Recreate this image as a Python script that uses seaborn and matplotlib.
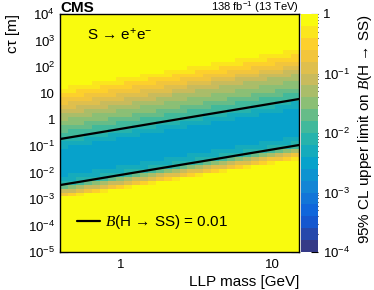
import numpy as np
import pandas as pd
import seaborn as sns
import matplotlib
matplotlib.use("Agg")
import matplotlib.pyplot as plt
from matplotlib.colors import LinearSegmentedColormap, LogNorm
from matplotlib.ticker import LogLocator, FuncFormatter, NullFormatter

# B(H->SS) = 0.01 contour lines
mass_pts = [0.4, 0.6, 1.0, 1.5, 2.5, 4.0, 6.0, 10.0, 15.0]
ctau_upper = [0.187, 0.276, 0.451, 0.667, 1.09, 1.71, 2.52, 4.12, 6.1]
ctau_lower = [0.0034, 0.0050, 0.0082, 0.0121, 0.0198, 0.031, 0.046, 0.075, 0.111]

# limit across the band: decades of c*tau above the upper contour -> limit
band_offset = [-3.0, -2.35, -2.2, -2.05, -1.9, -1.74, -1.55, -1.3, -0.9,
               -0.5, -0.2, 0.0, 0.3, 0.6, 0.9, 1.2, 1.5, 1.8, 2.05, 3.0]
band_limit = [1.0, 1.0, 0.45, 0.12, 0.035, 0.010, 0.005, 0.0033, 0.003,
              0.0033, 0.005, 0.010, 0.018, 0.033, 0.06, 0.12, 0.25, 0.5, 1.0, 1.0]

# ROOT kBird palette
bird_colors = ["#353a87", "#0f5cdd", "#1481d6", "#06a4ca", "#2eb7a4",
               "#87bf77", "#d1bb59", "#fec832", "#f9fb0e"]

# histogram binning (log10 units)
n_mass, n_ctau = 30, 60
mass_range = (np.log10(0.4), np.log10(15.0))
ctau_range = (-5.0, 4.0)

# build the limit table from the read values
me = np.linspace(*mass_range, n_mass + 1)
ce = np.linspace(*ctau_range, n_ctau + 1)
lm = (me[:-1] + me[1:]) / 2
lc = (ce[:-1] + ce[1:]) / 2
LM, LC = np.meshgrid(lm, lc, indexing="ij")
edge = np.interp(LM, np.log10(mass_pts), np.log10(ctau_upper))
lim = 10 ** np.interp(LC - edge, band_offset, np.log10(band_limit))
df = pd.DataFrame({"mass": 10 ** LM.ravel(), "ctau": 10 ** LC.ravel(),
                   "limit": lim.ravel()})

sns.set_style("ticks")
plt.rcParams["font.family"] = ["Liberation Sans", "DejaVu Sans"]
plt.rcParams["mathtext.fontset"] = "custom"
plt.rcParams["mathtext.rm"] = "Liberation Sans"
plt.rcParams["mathtext.it"] = "Liberation Sans:italic"
plt.rcParams["mathtext.bf"] = "Liberation Sans:bold"
plt.rcParams["mathtext.cal"] = "Liberation Serif:italic"
for key in ["text.color", "axes.labelcolor", "axes.edgecolor",
            "xtick.color", "ytick.color"]:
    plt.rcParams[key] = "black"

bird = LinearSegmentedColormap.from_list("bird", bird_colors, N=20)

fig = plt.figure(figsize=(3.74, 2.90), dpi=100)
ax = fig.add_axes([60 / 374, 38 / 290, 239 / 374, 238 / 290])
cax = fig.add_axes([301 / 374, 38 / 290, 17 / 374, 238 / 290])

sns.histplot(data=df, x="mass", y="ctau", weights="limit",
             bins=(n_mass, n_ctau), binrange=(mass_range, ctau_range),
             log_scale=(True, True), cmap=bird, cbar=False, ax=ax)
mesh = ax.collections[0]
mesh.set_norm(LogNorm(1e-4, 1))
cbar = fig.colorbar(mesh, cax=cax)

sns.lineplot(x=mass_pts, y=ctau_upper, color="black", lw=1.6, ax=ax,
             label=r"$\mathcal{B}$(H → SS) = 0.01")
sns.lineplot(x=mass_pts, y=ctau_lower, color="black", lw=1.6, ax=ax)

ax.set_xlim(0.4, 15)
ax.set_ylim(1e-5, 1e4)


def log_fmt(v, pos):
    e = int(round(np.log10(v)))
    if e == 0:
        return "1"
    if e == 1:
        return "10"
    return r"$10^{%d}$" % e


for axis in (ax.xaxis, ax.yaxis, cax.yaxis):
    axis.set_major_locator(LogLocator(base=10, numticks=20))
    axis.set_minor_locator(LogLocator(base=10, subs=np.arange(2, 10), numticks=200))
    axis.set_major_formatter(FuncFormatter(log_fmt))
    axis.set_minor_formatter(NullFormatter())

ax.tick_params(which="both", direction="in", top=True, right=True,
               labelsize=9.5, width=0.8)
ax.tick_params(which="major", length=6)
ax.tick_params(which="minor", length=3)
ax.tick_params(axis="x", pad=5)
for s in ax.spines.values():
    s.set_linewidth(1.0)
    s.set_color("black")

cax.tick_params(which="both", direction="in", labelsize=9.5, width=0.8)
cax.tick_params(which="major", length=5)
cax.tick_params(which="minor", length=2.5)
cbar.outline.set_visible(False)

ax.set_xlabel("LLP mass [GeV]", loc="right", fontsize=11, labelpad=3)
ax.set_ylabel("cτ [m]", loc="top", fontsize=11, labelpad=6)
cax.set_ylabel(r"95% CL upper limit on $\mathcal{B}$(H → SS)", loc="top",
               fontsize=11, labelpad=4)

ax.legend(loc="center left", bbox_to_anchor=(0.072, 0.126), frameon=False,
          fontsize=11, handlelength=1.5, handletextpad=0.35,
          borderpad=0, borderaxespad=0)

ax.text(0.113, 0.912, "S → e$^{+}$e$^{-}$", transform=ax.transAxes,
        fontsize=11, va="center", ha="left")

fig.text(60 / 374, 1 - 12 / 290, "CMS", fontsize=11, weight="bold",
         ha="left", va="baseline")
fig.text(299 / 374, 1 - 11 / 290, "138 fb$^{-1}$ (13 TeV)", fontsize=8,
         ha="right", va="baseline")

fig.savefig("out.png", dpi=100)
